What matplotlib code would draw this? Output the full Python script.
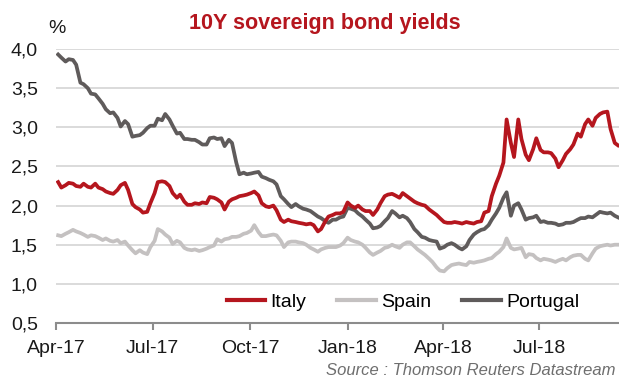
import matplotlib
matplotlib.use("Agg")
import matplotlib.pyplot as plt
import matplotlib.dates as mdates
import matplotlib.ticker as mticker
import pandas as pd

plt.rcParams["font.family"] = ["Liberation Sans", "DejaVu Sans"]

# Twice-weekly observations (Monday and Thursday), Apr 2017 - Sep 2018
mondays = pd.date_range("2017-04-03", periods=76, freq="7D")
thursdays = mondays + pd.Timedelta(days=3)
dates = pd.DatetimeIndex(sorted(list(mondays) + list(thursdays)))

italy = [
    2.30, 2.23, 2.26, 2.29, 2.28, 2.25, 2.24, 2.28, 2.24, 2.23, 2.28, 2.23, 2.21, 2.18, 2.16, 2.15, 2.20, 2.26, 2.29, 2.20,
    2.02, 1.98, 1.95, 1.91, 1.92, 2.03, 2.16, 2.30, 2.31, 2.30, 2.25, 2.16, 2.10, 2.14, 2.05, 2.01, 2.01, 2.03, 2.02, 2.04,
    2.03, 2.11, 2.10, 2.08, 2.04, 1.95, 2.05, 2.08, 2.10, 2.12, 2.13, 2.14, 2.16, 2.18, 2.13, 2.03, 1.99, 1.98, 2.00, 1.94,
    1.82, 1.79, 1.82, 1.80, 1.79, 1.78, 1.77, 1.76, 1.77, 1.75, 1.67, 1.70, 1.80, 1.86, 1.88, 1.90, 1.90, 1.92, 2.04, 2.00,
    1.97, 2.00, 1.95, 1.93, 1.93, 1.88, 1.95, 2.03, 2.12, 2.14, 2.15, 2.13, 2.10, 2.16, 2.12, 2.09, 2.05, 2.03, 2.01, 2.00,
    1.95, 1.92, 1.88, 1.84, 1.79, 1.78, 1.78, 1.79, 1.78, 1.77, 1.79, 1.78, 1.77, 1.79, 1.80, 1.91, 1.93, 2.12, 2.28, 2.38,
    2.55, 3.10, 2.80, 2.62, 3.10, 2.85, 2.65, 2.58, 2.72, 2.86, 2.71, 2.68, 2.68, 2.67, 2.60, 2.49, 2.58, 2.66, 2.72, 2.78,
    2.92, 2.88, 3.04, 3.10, 3.02, 3.12, 3.17, 3.19, 3.20, 2.98, 2.80, 2.77,
]

spain = [
    1.62, 1.61, 1.64, 1.66, 1.69, 1.67, 1.65, 1.63, 1.60, 1.62, 1.61, 1.59, 1.56, 1.58, 1.55, 1.54, 1.56, 1.52, 1.54, 1.49,
    1.43, 1.39, 1.43, 1.40, 1.38, 1.47, 1.55, 1.70, 1.67, 1.63, 1.59, 1.51, 1.55, 1.53, 1.46, 1.44, 1.43, 1.44, 1.42, 1.43,
    1.45, 1.47, 1.49, 1.57, 1.54, 1.57, 1.58, 1.60, 1.60, 1.61, 1.64, 1.65, 1.68, 1.75, 1.66, 1.61, 1.61, 1.62, 1.63, 1.62,
    1.55, 1.47, 1.53, 1.54, 1.54, 1.53, 1.52, 1.50, 1.46, 1.44, 1.41, 1.44, 1.46, 1.47, 1.47, 1.47, 1.49, 1.52, 1.59, 1.56,
    1.54, 1.53, 1.50, 1.46, 1.40, 1.37, 1.40, 1.42, 1.46, 1.47, 1.50, 1.48, 1.46, 1.50, 1.53, 1.53, 1.48, 1.44, 1.40, 1.37,
    1.32, 1.28, 1.21, 1.17, 1.16, 1.20, 1.24, 1.25, 1.26, 1.25, 1.24, 1.28, 1.27, 1.28, 1.29, 1.30, 1.32, 1.33, 1.38, 1.41,
    1.47, 1.58, 1.46, 1.44, 1.45, 1.46, 1.34, 1.38, 1.37, 1.33, 1.30, 1.32, 1.31, 1.30, 1.28, 1.30, 1.32, 1.30, 1.34, 1.36,
    1.37, 1.37, 1.32, 1.30, 1.39, 1.45, 1.48, 1.49, 1.50, 1.49, 1.50, 1.50,
]

portugal = [
    3.93, 3.89, 3.84, 3.87, 3.86, 3.80, 3.57, 3.55, 3.50, 3.43, 3.42, 3.37, 3.30, 3.23, 3.18, 3.19, 3.12, 3.01, 3.08, 3.04,
    2.88, 2.89, 2.90, 2.93, 2.99, 3.02, 3.02, 3.11, 3.09, 3.17, 3.10, 3.02, 2.92, 2.93, 2.85, 2.85, 2.84, 2.84, 2.81, 2.78,
    2.78, 2.86, 2.87, 2.85, 2.86, 2.76, 2.84, 2.80, 2.55, 2.40, 2.42, 2.40, 2.41, 2.42, 2.43, 2.37, 2.35, 2.33, 2.31, 2.27,
    2.12, 2.08, 2.02, 1.98, 2.02, 1.99, 1.96, 1.95, 1.93, 1.90, 1.86, 1.84, 1.80, 1.78, 1.82, 1.82, 1.85, 1.86, 1.97, 1.96,
    1.94, 1.90, 1.86, 1.82, 1.77, 1.71, 1.72, 1.74, 1.80, 1.84, 1.93, 1.90, 1.85, 1.87, 1.84, 1.79, 1.70, 1.66, 1.60, 1.59,
    1.56, 1.55, 1.54, 1.45, 1.47, 1.50, 1.52, 1.50, 1.46, 1.44, 1.48, 1.56, 1.63, 1.66, 1.69, 1.70, 1.75, 1.82, 1.90, 1.97,
    2.10, 2.17, 1.87, 2.00, 2.03, 1.95, 1.82, 1.84, 1.85, 1.87, 1.79, 1.80, 1.78, 1.78, 1.77, 1.75, 1.76, 1.78, 1.78, 1.79,
    1.82, 1.84, 1.84, 1.86, 1.85, 1.88, 1.92, 1.91, 1.90, 1.91, 1.87, 1.85,
]

y_ticks = [0.5, 1.0, 1.5, 2.0, 2.5, 3.0, 3.5, 4.0]

ITALY_C = "#B5161E"
SPAIN_C = "#C4C1C1"
PORT_C = "#5F5B5B"
GRID_C = "#DADADA"
AXIS_C = "#8C8C8C"
TEXT_C = "#1A1A1A"

fig = plt.figure(figsize=(6.19, 3.80), dpi=100)
ax = fig.add_axes([0.0905, 0.15, 0.9095, 0.721])

lw = 2.7
l_spain, = ax.plot(dates, spain, color=SPAIN_C, lw=lw, solid_joinstyle="round", label="Spain")
l_port, = ax.plot(dates, portugal, color=PORT_C, lw=lw, solid_joinstyle="round", label="Portugal")
l_italy, = ax.plot(dates, italy, color=ITALY_C, lw=lw, solid_joinstyle="round", label="Italy")

ax.set_ylim(0.5, 4.0)
ax.set_xlim(pd.Timestamp("2017-04-01"), pd.Timestamp("2018-09-14"))

ax.set_yticks(y_ticks)
ax.yaxis.set_major_formatter(mticker.FuncFormatter(lambda v, p: f"{v:.1f}".replace(".", ",")))
ax.xaxis.set_major_locator(mdates.MonthLocator(bymonth=[1, 4, 7, 10]))
ax.xaxis.set_major_formatter(mdates.DateFormatter("%b-%y"))

ax.grid(axis="y", color=GRID_C, lw=1.4, zorder=0)
ax.set_axisbelow(True)
for side in ("left", "right", "top"):
    ax.spines[side].set_visible(False)
ax.spines["bottom"].set_color(AXIS_C)
ax.spines["bottom"].set_linewidth(1.5)

ax.tick_params(axis="y", length=0, pad=13, labelsize=14, labelcolor=TEXT_C)
ax.tick_params(axis="x", length=5, width=1.5, color=AXIS_C, direction="out",
               pad=7, labelsize=14, labelcolor=TEXT_C)

leg = ax.legend(handles=[l_italy, l_spain, l_port], loc="center",
                bbox_to_anchor=(0.616, 0.077), ncol=3, frameon=False,
                fontsize=14, handlelength=2.0, handletextpad=0.25,
                columnspacing=1.6, borderpad=0)
for h in leg.get_lines():
    h.set_linewidth(3.0)

fig.text(0.525, 0.937, "10Y sovereign bond yields", ha="center", va="center",
         fontsize=15.5, fontweight="bold", color=ITALY_C)
fig.text(57 / 619, 0.926, "%", ha="center", va="center", fontsize=14, color=TEXT_C)
fig.text(0.995, 0.005, "Source : Thomson Reuters Datastream", ha="right", va="bottom",
         fontsize=12, style="italic", color="#6E6E6E")

fig.savefig("out.png", dpi=100)
